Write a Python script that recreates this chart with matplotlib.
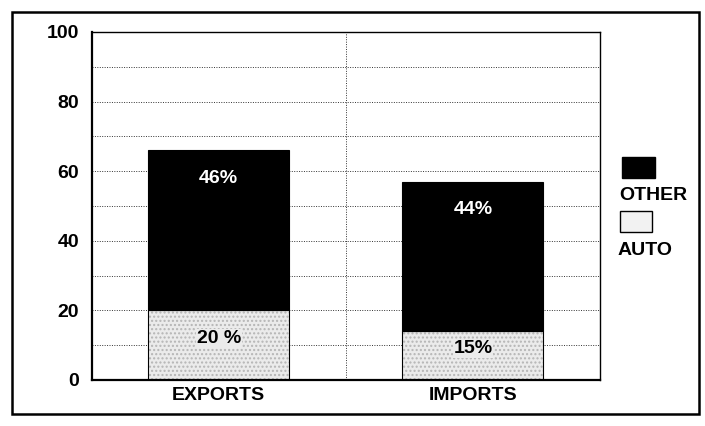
import matplotlib.pyplot as plt
from matplotlib.patches import Rectangle

plt.rcParams['font.family'] = ['Liberation Sans', 'DejaVu Sans']

categories = ['EXPORTS', 'IMPORTS']
auto_values = [20, 14]
other_values = [46, 43]
auto_labels = ['20 %', '15%']
other_labels = ['46%', '44%']
y_ticks = [0, 20, 40, 60, 80, 100]

fig = plt.figure(figsize=(7.05, 4.26), dpi=100)
ax = fig.add_axes([0.130, 0.108, 0.721, 0.817])

x = list(range(len(categories)))
width = 0.555

# grid first so the bars sit on top
for y in range(10, 100, 10):
    ax.axhline(y, color='#333333', linestyle=(0, (1, 1.5)), linewidth=0.7, zorder=0)
ax.axvline(0.5, color='#333333', linestyle=(0, (1, 1.5)), linewidth=0.7, zorder=0)

ax.bar(x, auto_values, width, color='#ebebeb', edgecolor='#b5b5b5', hatch='....',
       linewidth=0, zorder=2)
ax.bar(x, auto_values, width, fill=False, edgecolor='black', linewidth=0.8, zorder=3)
ax.bar(x, other_values, width, bottom=auto_values, color='black', edgecolor='black',
       linewidth=0.8, zorder=2)

for i in x:
    top = auto_values[i] + other_values[i]
    ax.text(i, top - 8, other_labels[i], color='white', ha='center', va='center',
            fontsize=14, fontweight='bold', zorder=4)
    ax.text(i, auto_values[i] / 2 + 2, auto_labels[i], color='black', ha='center',
            va='center', fontsize=14, fontweight='bold', zorder=4,
            bbox=dict(facecolor='#ebebeb', edgecolor='none', pad=0.5))

ax.set_xlim(-0.5, 1.5)
ax.set_ylim(0, 100)
ax.set_yticks(y_ticks)
ax.set_yticklabels([str(t) for t in y_ticks], fontsize=14, fontweight='bold')
ax.set_xticks(x)
ax.set_xticklabels(categories, fontsize=14, fontweight='bold')
ax.tick_params(length=0, pad=9)
ax.tick_params(axis='x', pad=5)
for side in ['left', 'bottom']:
    ax.spines[side].set_linewidth(1.6)
for side in ['top', 'right']:
    ax.spines[side].set_linewidth(1.0)

# legend drawn by hand: swatch above its name
fig.add_artist(Rectangle((0.882, 0.582), 0.047, 0.050, transform=fig.transFigure,
                         facecolor='black', edgecolor='black'))
fig.text(0.878, 0.540, 'OTHER', fontsize=14, fontweight='bold', va='center')
fig.add_artist(Rectangle((0.880, 0.455), 0.045, 0.050, transform=fig.transFigure,
                         facecolor='#f2f2f2', edgecolor='black', linewidth=1.0))
fig.text(0.876, 0.413, 'AUTO', fontsize=14, fontweight='bold', va='center')

# outer frame of the scanned figure
fig.add_artist(Rectangle((0.017, 0.028), 0.975, 0.945, transform=fig.transFigure,
                         fill=False, edgecolor='black', linewidth=1.8))

fig.savefig('out.png', dpi=100)
